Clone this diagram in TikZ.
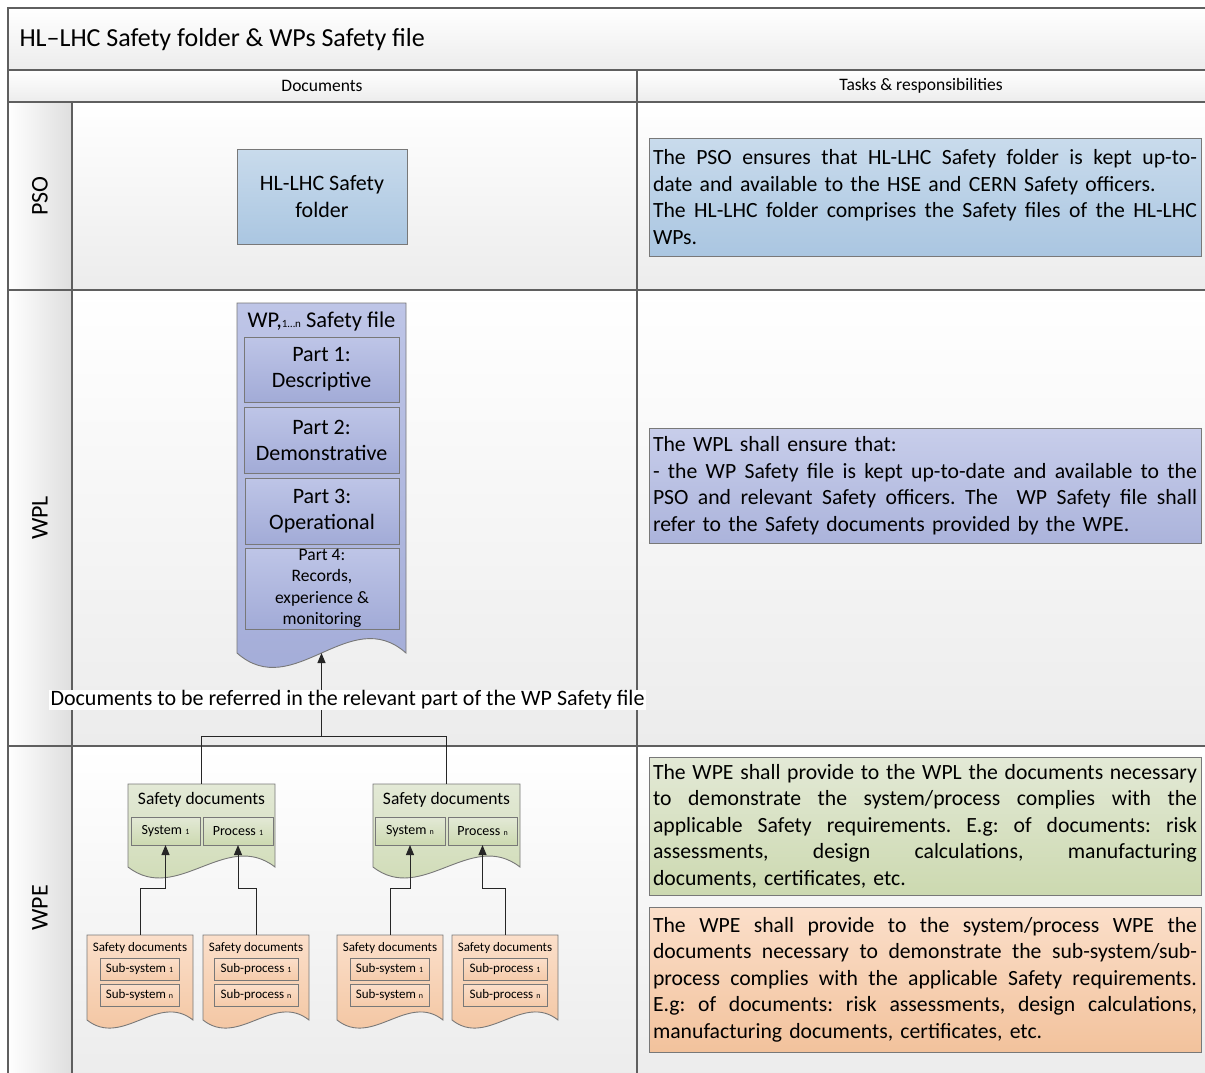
\documentclass[tikz,border=0pt]{standalone}
\usepackage{fontspec}
\setmainfont{Carlito}
\usetikzlibrary{arrows.meta,calc}

\definecolor{frameC}{RGB}{95,95,95}
\definecolor{bordC}{RGB}{120,120,120}
\definecolor{blueT}{RGB}{201,219,236}
\definecolor{blueB}{RGB}{170,198,225}
\definecolor{lavT}{RGB}{190,197,231}
\definecolor{lavB}{RGB}{162,171,215}
\definecolor{greenT}{RGB}{227,233,214}
\definecolor{greenB}{RGB}{204,217,176}
\definecolor{orT}{RGB}{251,223,202}
\definecolor{orB}{RGB}{242,194,156}
\definecolor{laneB}{RGB}{236,236,236}
\definecolor{colB}{RGB}{222,222,222}

\newcommand\fs[2]{\fontsize{#1}{#2}\selectfont}
\newcommand\jl[1]{\leavevmode\hbox to 544pt{\frenchspacing\spaceskip=\fontdimen2\font plus 1fil minus \fontdimen4\font\relax #1}}
\newcommand\sbs[1]{{\fontsize{8}{8}\selectfont #1}}
\newcommand\docdraw[4]{\path[draw=bordC, line width=0.9pt, top color=#3, bottom color=#4]
  (#1.north west) -- (#1.north east) -- (#1.south east)
  .. controls ($(#1.south east)!1/3!(#1.south west)+(0,-#2)$) and ($(#1.south west)!1/3!(#1.south east)+(0,#2)$) .. (#1.south west) -- cycle;}

\begin{document}
\begin{tikzpicture}[x=1pt,y=-1pt,
  frame/.style={draw=frameC, line width=1.4pt},
  box/.style={draw=bordC, line width=0.9pt},
  docbody/.style={inner sep=0pt, outer sep=0pt},
  ibox/.style={box, inner sep=0pt, outer sep=0pt, align=center},
  tbox/.style={box, text width=544pt, inner xsep=4pt, align=left, font=\fs{21.7}{26.5}},
  conn/.style={draw=black!85, line width=1pt},
  arr/.style={conn, -{Triangle[length=10pt,width=8pt]}}]
\useasboundingbox (0,0) rectangle (1205,1072);
\clip (0,0) rectangle (1205,1072);
\fill[white] (0,0) rectangle (1205,1072);

% backgrounds
\shade[top color=white, bottom color=laneB] (8,8) rectangle (1215,70);
\shade[top color=white, bottom color=laneB] (8,70) rectangle (1215,102);
\shade[top color=white, bottom color=laneB] (72,102) rectangle (1215,290);
\shade[top color=white, bottom color=laneB] (72,290) rectangle (1215,746);
\shade[top color=white, bottom color=laneB] (72,746) rectangle (1215,1080);
\shade[left color=white, right color=colB] (8,102) rectangle (72,290);
\shade[left color=white, right color=colB] (8,290) rectangle (72,746);
\shade[left color=white, right color=colB] (8,746) rectangle (72,1080);

% frame lines
\draw[frame] (8,8) rectangle (1215,1080);
\draw[frame] (8,70) -- (1215,70);
\draw[frame] (8,102) -- (1215,102);
\draw[frame] (8,290) -- (1215,290);
\draw[frame] (8,746) -- (1215,746);
\draw[frame] (637,70) -- (637,1080);
\draw[frame] (72,102) -- (72,1080);

% headings
\node[anchor=west, font=\fs{26}{30}] (title) at (16,39.5) {HL–LHC Safety folder \& WPs Safety file};
\node[font=\fs{17.5}{19}] (hdoc) at (322,86) {Documents};
\node[font=\fs{17.5}{19}] (htask) at (921,86) {Tasks \& responsibilities};
\node[rotate=90, font=\fs{24}{28}] (lpso) at (40,196) {PSO};
\node[rotate=90, font=\fs{24}{28}] (lwpl) at (40,518) {WPL};
\node[rotate=90, font=\fs{24}{28}] (lwpe) at (40,908) {WPE};

% PSO lane
\node[box, top color=blueT, bottom color=blueB, minimum width=170, minimum height=95,
      align=center, font=\fs{22}{27}] (folder) at (322,196.5) {HL-LHC Safety\\folder};
\node[tbox, top color=blueT, bottom color=blueB, minimum height=118] (tpso) at (925,197)
  {\jl{The PSO ensures that HL-LHC Safety folder is kept up-to-}\\
   date and available to the HSE and CERN Safety officers.\\
   \jl{The HL-LHC folder comprises the Safety files of the HL-LHC}\\
   WPs.};

% WPL lane
\node[docbody, minimum width=169, minimum height=350, anchor=north west] (wpf) at (237,303) {};
\docdraw{wpf}{50}{lavT}{lavB}
\node[font=\fs{22.5}{26}] (wpft) at (321.5,321) {WP,{\fontsize{11}{11}\selectfont 1…n} Safety file};
\node[ibox, top color=lavT, bottom color=lavB, minimum width=155, minimum height=65, font=\fs{22}{26}] (p1) at (321.5,369.5) {Part 1:\\Descriptive};
\node[ibox, top color=lavT, bottom color=lavB, minimum width=155, minimum height=66, font=\fs{22}{26}] (p2) at (321.5,440) {Part 2:\\Demonstrative};
\node[ibox, top color=lavT, bottom color=lavB, minimum width=154, minimum height=66, font=\fs{22}{26}] (p3) at (322,511) {Part 3:\\Operational};
\node[ibox, top color=lavT, bottom color=lavB, minimum width=154, minimum height=81, font=\fs{17.5}{21.3}] (p4) at (322,588.5) {Part 4:\\Records,\\experience \&\\monitoring};
\node[tbox, top color=lavT!85!white, bottom color=lavB!90!white, minimum height=115] (twpl) at (925,485.5)
  {The WPL shall ensure that:\\
   \jl{- the WP Safety file is kept up-to-date and available to the}\\
   \jl{PSO and relevant Safety officers. The \ WP Safety file shall}\\
   refer to the Safety documents provided by the WPE.};

% WPE lane: green documents
\node[docbody, minimum width=147, minimum height=83, anchor=north west] (gd1) at (128,784) {};
\docdraw{gd1}{38}{greenT}{greenB}
\node[docbody, minimum width=147, minimum height=83, anchor=north west] (gd2) at (373,784) {};
\docdraw{gd2}{38}{greenT}{greenB}
\node[font=\fs{17.5}{20}] (gd1t) at (201.5,800) {Safety documents};
\node[font=\fs{17.5}{20}] (gd2t) at (446.5,800) {Safety documents};
\node[ibox, top color=greenT, bottom color=greenB, minimum width=69, minimum height=28, font=\fs{14}{16}] (sys1) at (165.5,831) {System \sbs{1}};
\node[ibox, top color=greenT, bottom color=greenB, minimum width=70, minimum height=28, font=\fs{14}{16}] (proc1) at (238,831) {Process \sbs{1}};
\node[ibox, top color=greenT, bottom color=greenB, minimum width=70, minimum height=28, font=\fs{14}{16}] (sysn) at (410,831) {System \sbs{n}};
\node[ibox, top color=greenT, bottom color=greenB, minimum width=69, minimum height=28, font=\fs{14}{16}] (procn) at (482.5,831) {Process \sbs{n}};

% orange documents
\node[docbody, minimum width=106, minimum height=85, anchor=north west] (od1) at (87,935) {};
\docdraw{od1}{28}{orT}{orB}
\node[docbody, minimum width=106, minimum height=85, anchor=north west] (od2) at (203,935) {};
\docdraw{od2}{28}{orT}{orB}
\node[docbody, minimum width=106, minimum height=85, anchor=north west] (od3) at (337,935) {};
\docdraw{od3}{28}{orT}{orB}
\node[docbody, minimum width=106, minimum height=85, anchor=north west] (od4) at (452,935) {};
\docdraw{od4}{28}{orT}{orB}
\node[font=\fs{13}{15}] (od1t) at (140,948) {Safety documents};
\node[font=\fs{13}{15}] (od2t) at (256,948) {Safety documents};
\node[font=\fs{13}{15}] (od3t) at (390,948) {Safety documents};
\node[font=\fs{13}{15}] (od4t) at (505,948) {Safety documents};
\node[ibox, top color=orT, bottom color=orB!70!orT, minimum width=79, minimum height=22, font=\fs{13}{15}] (ss1a) at (139.5,969) {Sub-system \sbs{1}};
\node[ibox, top color=orT, bottom color=orB!70!orT, minimum width=79, minimum height=22, font=\fs{13}{15}] (ssna) at (139.5,995) {Sub-system \sbs{n}};
\node[ibox, top color=orT, bottom color=orB!70!orT, minimum width=84, minimum height=22, font=\fs{13}{15}] (sp1a) at (256,969) {Sub-process \sbs{1}};
\node[ibox, top color=orT, bottom color=orB!70!orT, minimum width=84, minimum height=22, font=\fs{13}{15}] (spna) at (256,995) {Sub-process \sbs{n}};
\node[ibox, top color=orT, bottom color=orB!70!orT, minimum width=79, minimum height=22, font=\fs{13}{15}] (ss1b) at (389.5,969) {Sub-system \sbs{1}};
\node[ibox, top color=orT, bottom color=orB!70!orT, minimum width=79, minimum height=22, font=\fs{13}{15}] (ssnb) at (389.5,995) {Sub-system \sbs{n}};
\node[ibox, top color=orT, bottom color=orB!70!orT, minimum width=84, minimum height=22, font=\fs{13}{15}] (sp1b) at (505,969) {Sub-process \sbs{1}};
\node[ibox, top color=orT, bottom color=orB!70!orT, minimum width=84, minimum height=22, font=\fs{13}{15}] (spnb) at (505,995) {Sub-process \sbs{n}};

% WPE text boxes
\node[tbox, top color=greenT, bottom color=greenB, minimum height=138] (tgreen) at (925,826)
  {\jl{The WPE shall provide to the WPL the documents necessary}\\
   \jl{to demonstrate the system/process complies with the}\\
   \jl{applicable Safety requirements. E.g: of documents: risk}\\
   \jl{assessments, design calculations, manufacturing}\\
   documents, certificates, etc.};
\node[tbox, top color=orT, bottom color=orB, minimum height=145] (torange) at (925,979.5)
  {\jl{The WPE shall provide to the system/process WPE the}\\
   \jl{documents necessary to demonstrate the sub-system/sub-}\\
   \jl{process complies with the applicable Safety requirements.}\\
   \jl{E.g: of documents: risk assessments, design calculations,}\\
   manufacturing documents, certificates, etc.};

% connectors
\coordinate (brk) at (321.5,736);
\draw[conn] (gd1.north) |- (brk) -| (gd2.north);
\draw[arr] (brk) -- (wpf.south);
\node[fill=white, inner xsep=2pt, inner ysep=1pt, font=\fs{22}{26}] (reflabel) at (347.5,700)
  {Documents to be referred in the relevant part of the WP Safety file};
\draw[arr] (od1.north) -- ++(0,-47) -| (sys1.south);
\draw[arr] (od2.north) -- ++(0,-47) -| (proc1.south);
\draw[arr] (od3.north) -- ++(0,-47) -| (sysn.south);
\draw[arr] (od4.north) -- ++(0,-47) -| (procn.south);
\end{tikzpicture}
\end{document}
